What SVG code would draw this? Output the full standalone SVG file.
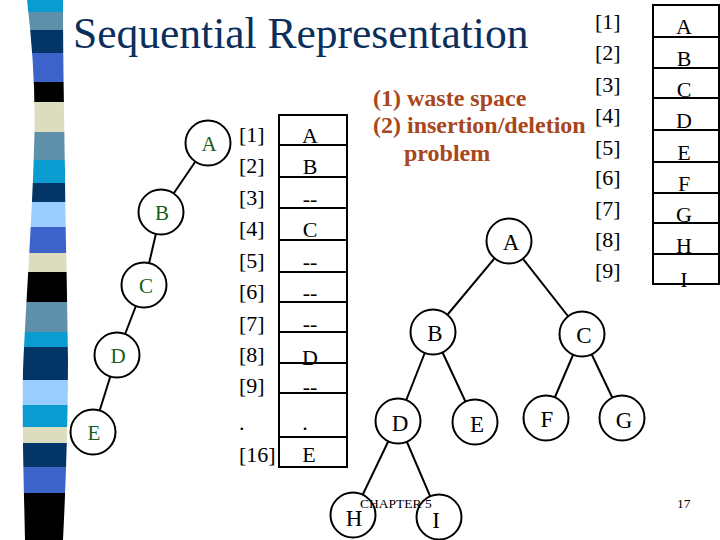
<svg xmlns="http://www.w3.org/2000/svg" width="720" height="540" viewBox="0 0 720 540">
<style>
.t{font-family:"Liberation Serif","Times New Roman",serif}
.lbl{font-family:"Liberation Serif",serif;font-size:22px;fill:#000}
.cell{font-family:"Liberation Serif",serif;font-size:22px;fill:#000;text-anchor:middle}
.nd{fill:#fff;stroke:#000;stroke-width:2}
.gl{font-family:"Liberation Serif",serif;font-size:21px;fill:#1a5c1a;text-anchor:middle}
.bl{font-family:"Liberation Serif",serif;font-size:23px;fill:#000;text-anchor:middle}
.edge{stroke:#000;stroke-width:2;fill:none}
.box{fill:none;stroke:#000;stroke-width:2}
.note{font-family:"Liberation Serif",serif;font-weight:bold;font-size:24px;fill:#A8461C}
</style>
<defs>
<clipPath id="barclip">
<path d="M27,0 C33,50 36,100 34,150 C32,220 26,300 23,370 C22,430 24,490 25,540 L63,540 C66,480 68,420 68,360 C67,280 65,200 65,170 C64,100 63,50 63,0 Z"/>
</clipPath>
</defs>
<rect width="720" height="540" fill="#fff"/>
<g id="sidebar" clip-path="url(#barclip)">
<rect x="0" y="0" width="80" height="12" fill="#0A9BD0"/>
<rect x="0" y="12" width="80" height="18" fill="#5E91A9"/>
<rect x="0" y="30" width="80" height="23" fill="#043567"/>
<rect x="0" y="53" width="80" height="29" fill="#3B63C9"/>
<rect x="0" y="82" width="80" height="20" fill="#000"/>
<rect x="0" y="102" width="80" height="30" fill="#DCDDBE"/>
<rect x="0" y="132" width="80" height="28" fill="#5E91A9"/>
<rect x="0" y="160" width="80" height="23" fill="#0A9BD0"/>
<rect x="0" y="183" width="80" height="19" fill="#043567"/>
<rect x="0" y="202" width="80" height="25" fill="#99CCFF"/>
<rect x="0" y="227" width="80" height="26" fill="#3B63C9"/>
<rect x="0" y="253" width="80" height="19" fill="#DCDDBE"/>
<rect x="0" y="272" width="80" height="30" fill="#000"/>
<rect x="0" y="302" width="80" height="30" fill="#5E91A9"/>
<rect x="0" y="332" width="80" height="15" fill="#0A9BD0"/>
<rect x="0" y="347" width="80" height="33" fill="#043567"/>
<rect x="0" y="380" width="80" height="25" fill="#99CCFF"/>
<rect x="0" y="405" width="80" height="22" fill="#0A9BD0"/>
<rect x="0" y="427" width="80" height="16" fill="#DCDDBE"/>
<rect x="0" y="443" width="80" height="24" fill="#043567"/>
<rect x="0" y="467" width="80" height="26" fill="#3B63C9"/>
<rect x="0" y="493" width="80" height="47" fill="#000"/>
</g>
<text id="title" class="t" x="73" y="48" font-size="43.5" fill="#0B2F5C">Sequential Representation</text>

<g id="connectors">
<line class="edge" x1="208" y1="143" x2="161" y2="212"/>
<line class="edge" x1="161" y1="212" x2="144" y2="285"/>
<line class="edge" x1="144" y1="285" x2="117" y2="355"/>
<line class="edge" x1="117" y1="355" x2="93" y2="432"/>
<line class="edge" x1="509" y1="241" x2="433" y2="332"/>
<line class="edge" x1="509" y1="241" x2="582" y2="334"/>
<line class="edge" x1="433" y1="332" x2="398" y2="421"/>
<line class="edge" x1="433" y1="332" x2="475" y2="422"/>
<line class="edge" x1="582" y1="334" x2="546" y2="418"/>
<line class="edge" x1="582" y1="334" x2="622" y2="418"/>
<line class="edge" x1="398" y1="421" x2="353" y2="515"/>
<line class="edge" x1="398" y1="421" x2="439" y2="517"/>
</g>

<g id="lA"><circle class="nd" cx="208" cy="143" r="22.5"/><text class="gl" x="209" y="151">A</text></g>
<g id="lB"><circle class="nd" cx="161" cy="212" r="22.5"/><text class="gl" x="162" y="220">B</text></g>
<g id="lC"><circle class="nd" cx="144" cy="285" r="22.5"/><text class="gl" x="146" y="293">C</text></g>
<g id="lD"><circle class="nd" cx="117" cy="355" r="22.5"/><text class="gl" x="118" y="363">D</text></g>
<g id="lE"><circle class="nd" cx="93" cy="432" r="22.5"/><text class="gl" x="94" y="440">E</text></g>

<g id="midtable">
<rect class="box" x="279" y="115" width="68" height="352"/>
<path class="edge" d="M279,145H347M279,177H347M279,208H347M279,240H347M279,272H347M279,302H347M279,332H347M279,363H347M279,393H347M279,437H347"/>
<text class="lbl" x="239" y="142">[1]</text>
<text class="lbl" x="239" y="173">[2]</text>
<text class="lbl" x="239" y="205">[3]</text>
<text class="lbl" x="239" y="236">[4]</text>
<text class="lbl" x="239" y="268">[5]</text>
<text class="lbl" x="239" y="299">[6]</text>
<text class="lbl" x="239" y="331">[7]</text>
<text class="lbl" x="239" y="362">[8]</text>
<text class="lbl" x="239" y="393">[9]</text>
<text class="lbl" x="239" y="430">.</text>
<text class="lbl" x="239" y="462">[16]</text>
<text class="cell" x="310" y="143">A</text>
<text class="cell" x="310" y="174">B</text>
<text class="cell" x="310" y="206">--</text>
<text class="cell" x="310" y="237">C</text>
<text class="cell" x="310" y="269">--</text>
<text class="cell" x="310" y="300">--</text>
<text class="cell" x="310" y="331">--</text>
<text class="cell" x="310" y="365">D</text>
<text class="cell" x="310" y="394">--</text>
<text class="cell" x="305" y="430">.</text>
<text class="cell" x="309" y="462">E</text>
</g>

<g id="notes">
<text class="note" x="373" y="106">(1) waste space</text>
<text class="note" x="373" y="133">(2) insertion/deletion</text>
<text class="note" x="404" y="161">problem</text>
</g>

<g id="righttable">
<rect class="box" x="653" y="5" width="66" height="279"/>
<path class="edge" d="M653,37H719M653,68H719M653,98H719M653,130H719M653,162H719M653,193H719M653,223H719M653,254H719"/>
<text class="lbl" x="595" y="29">[1]</text>
<text class="lbl" x="595" y="60">[2]</text>
<text class="lbl" x="595" y="92">[3]</text>
<text class="lbl" x="595" y="123">[4]</text>
<text class="lbl" x="595" y="155">[5]</text>
<text class="lbl" x="595" y="185">[6]</text>
<text class="lbl" x="595" y="216">[7]</text>
<text class="lbl" x="595" y="247">[8]</text>
<text class="lbl" x="595" y="278">[9]</text>
<text class="cell" x="684" y="34">A</text>
<text class="cell" x="684" y="66">B</text>
<text class="cell" x="684" y="97">C</text>
<text class="cell" x="684" y="128">D</text>
<text class="cell" x="684" y="160">E</text>
<text class="cell" x="684" y="191">F</text>
<text class="cell" x="684" y="222">G</text>
<text class="cell" x="684" y="253">H</text>
<text class="cell" x="684" y="287">I</text>
</g>

<g id="rA"><circle class="nd" cx="509" cy="241" r="22.5"/><text class="bl" x="511" y="250">A</text></g>
<g id="rB"><circle class="nd" cx="433" cy="332" r="22.5"/><text class="bl" x="435" y="341">B</text></g>
<g id="rC"><circle class="nd" cx="582" cy="334" r="22.5"/><text class="bl" x="584" y="343">C</text></g>
<g id="rD"><circle class="nd" cx="398" cy="421" r="22.5"/><text class="bl" x="400" y="431">D</text></g>
<g id="rE"><circle class="nd" cx="475" cy="422" r="22.5"/><text class="bl" x="477" y="432">E</text></g>
<g id="rF"><circle class="nd" cx="546" cy="418" r="22.5"/><text class="bl" x="547" y="427">F</text></g>
<g id="rG"><circle class="nd" cx="622" cy="418" r="22.5"/><text class="bl" x="624" y="428">G</text></g>
<g id="rH"><circle class="nd" cx="353" cy="515" r="22.5"/><text class="bl" x="354" y="526">H</text></g>
<g id="rI"><circle class="nd" cx="439" cy="517" r="22.5"/><text class="bl" x="436" y="528">I</text></g>

<g id="footer">
<text class="t" x="360" y="508" font-size="13.5" fill="#000">CHAPTER 5</text>
<text class="t" x="677" y="508" font-size="13.5" fill="#000">17</text>
</g>
</svg>
